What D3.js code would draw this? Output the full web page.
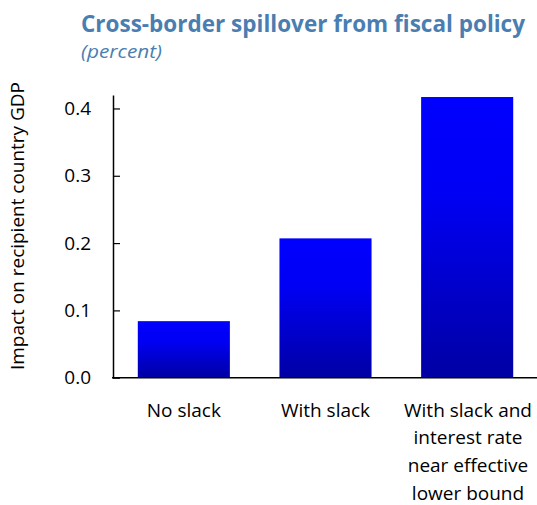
<!DOCTYPE html>
<html><head><meta charset="utf-8">
<script src="https://cdn.jsdelivr.net/npm/d3@7"></script>
<style>body{margin:0;background:#fff}svg{display:block}</style>
</head><body>
<script>
const categories = [["No slack"], ["With slack"], ["With slack and", "interest rate", "near effective", "lower bound"]];
const values = [0.084, 0.207, 0.417];
const yTicks = [0, 0.1, 0.2, 0.3, 0.4];
const title = "Cross-border spillover from fiscal policy";
const subtitle = "(percent)";
const yLabel = "Impact on recipient country GDP";

const W = 537, H = 505;
const font = "'Open Sans', 'Noto Sans', sans-serif";
const svg = d3.select("body").append("svg").attr("width", W).attr("height", H);

const defs = svg.append("defs");
const g = defs.append("linearGradient").attr("id", "barGrad").attr("x1", 0).attr("y1", 0).attr("x2", 0).attr("y2", 1);
g.append("stop").attr("offset", "0%").attr("stop-color", "#0000ff");
g.append("stop").attr("offset", "35%").attr("stop-color", "#0000f4");
g.append("stop").attr("offset", "100%").attr("stop-color", "#0000a4");

const x = d3.scaleBand().domain(d3.range(values.length)).range([113, 538]).paddingInner(0.35).paddingOuter(0.175);
const y = d3.scaleLinear().domain([0, 0.42]).range([377.7, 95]);

svg.append("text").attr("x", 81).attr("y", 32).attr("fill", "#4a7eb1")
  .attr("font-family", font).attr("font-weight", "bold").attr("font-size", 23)
  .attr("textLength", 444).attr("lengthAdjust", "spacingAndGlyphs").text(title);
svg.append("text").attr("x", 81).attr("y", 58).attr("fill", "#4a7eb1")
  .attr("font-family", font).attr("font-style", "italic").attr("font-size", 19)
  .attr("textLength", 81).attr("lengthAdjust", "spacingAndGlyphs").text(subtitle);

svg.append("g").selectAll("rect").data(values).join("rect")
  .attr("x", (d, i) => x(i)).attr("width", x.bandwidth())
  .attr("y", d => y(d)).attr("height", d => y(0) - y(d))
  .attr("fill", "url(#barGrad)");

const yAxis = svg.append("g").attr("transform", "translate(113,0)")
  .call(d3.axisLeft(y).tickValues(yTicks).tickFormat(d3.format(".1f")).tickSizeInner(-7).tickSizeOuter(0).tickPadding(22));
yAxis.select(".domain").attr("stroke", "#000").attr("stroke-width", 1.5);
yAxis.selectAll(".tick line").attr("stroke", "#000").attr("stroke-width", 1.2);
yAxis.selectAll(".tick text").attr("font-family", font).attr("font-size", 19).attr("fill", "#000");

svg.append("line").attr("x1", 112).attr("x2", 537).attr("y1", y(0)).attr("y2", y(0))
  .attr("stroke", "#000").attr("stroke-width", 1.5);

const xl = svg.append("g").selectAll("text").data(categories).join("text")
  .attr("text-anchor", "middle").attr("font-family", font).attr("font-size", 19).attr("fill", "#000");
xl.each(function(lines, i) {
  d3.select(this).selectAll("tspan").data(lines).join("tspan")
    .attr("x", i === 2 ? 468 : x(i) + x.bandwidth() / 2).attr("y", (d, j) => 416.5 + j * 27.8).text(d => d);
});

svg.append("text").attr("transform", "translate(24,226) rotate(-90)").attr("text-anchor", "middle")
  .attr("font-family", font).attr("font-size", 18).attr("fill", "#000")
  .attr("textLength", 288).attr("lengthAdjust", "spacingAndGlyphs").text(yLabel);
</script>
</body></html>
